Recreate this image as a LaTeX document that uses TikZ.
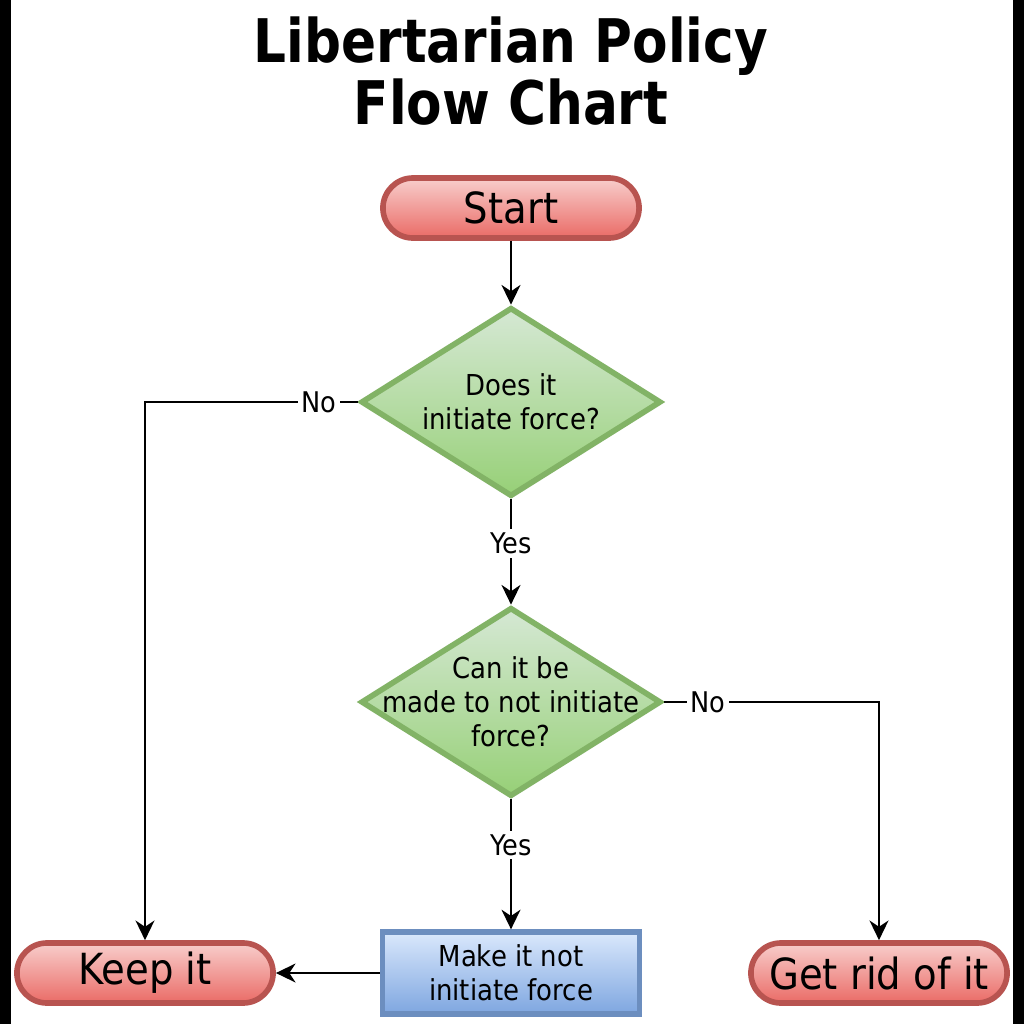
\documentclass[tikz,border=0pt]{standalone}
\usepackage{fontspec}
\setmainfont{DejaVu Sans}[FakeStretch=0.9]
\newfontfamily\titlefont{DejaVu Sans}[FakeStretch=0.86]
\usetikzlibrary{shapes.geometric,arrows.meta}
\definecolor{redfillA}{HTML}{F8CECC}
\definecolor{redfillB}{HTML}{EA6B66}
\definecolor{redline}{HTML}{B85450}
\definecolor{grnfillA}{HTML}{D5E8D4}
\definecolor{grnfillB}{HTML}{97D077}
\definecolor{grnline}{HTML}{82B366}
\definecolor{blufillA}{HTML}{DAE8FC}
\definecolor{blufillB}{HTML}{7EA6E0}
\definecolor{bluline}{HTML}{6C8EBF}
\tikzset{
  terminal/.style={rectangle, rounded corners=0.30cm, draw=redline, line width=1.6pt,
    top color=redfillA, bottom color=redfillB, minimum width=2.56cm, minimum height=0.60cm,
    inner sep=0pt, font=\fontsize{12.2pt}{14pt}\selectfont},
  decision/.style={diamond, draw=grnline, line width=1.6pt, top color=grnfillA, bottom color=grnfillB,
    minimum width=3.0cm, minimum height=1.89cm, inner sep=0pt},
  process/.style={rectangle, draw=bluline, line width=1.5pt, top color=blufillA, bottom color=blufillB,
    minimum width=2.57cm, minimum height=0.82cm, inner sep=0pt},
  txt/.style={align=center, font=\fontsize{8.2pt}{9.6pt}\selectfont, inner sep=0pt},
  lbl/.style={fill=white, inner sep=1pt, font=\fontsize{8.1pt}{9.6pt}\selectfont},
  conn/.style={draw=black, line width=0.55pt, -{Stealth[length=5.6pt, width=5.4pt, inset=1.8pt]}},
  bar/.style={fill=black, draw=none}
}
\begin{document}
\begin{tikzpicture}[x=0.01cm, y=-0.01cm]
\useasboundingbox (0,0) rectangle (1024,1024);
\fill[white] (0,0) rectangle (1024,1024);
\fill[bar] (0,0) rectangle (11,1024);
\fill[bar] (1013,0) rectangle (1024,1024);

\node[align=center, font=\titlefont\bfseries\fontsize{17.1pt}{17.4pt}\selectfont] (title) at (511,71)
  {Libertarian Policy\\Flow Chart};

\node[terminal] (start) at (511,208) {Start};
\node[decision, label={[txt]center:{Does it\\initiate force?}}] (d1) at (511,402) {};
\node[decision, label={[txt]center:{Can it be\\made to not initiate\\force?}}] (d2) at (511,702) {};
\node[process, txt] (make) at (511,973) {Make it not\\initiate force};
\node[terminal] (keep) at (145,973) {Keep it};
\node[terminal] (rid) at (879,973) {Get rid of it};

\draw[conn] (start) -- (d1);
\draw[conn] (d1.west) -| node[lbl, pos=0.092] {No} (keep.north);
\draw[conn] (d1.south) -- node[lbl, pos=0.42] {Yes} (d2.north);
\draw[conn] (d2.east) -| node[lbl, pos=0.103] {No} (rid.north);
\draw[conn] (d2.south) -- node[lbl, pos=0.35] {Yes} (make.north);
\draw[conn] (make.west) -- (keep.east);
\end{tikzpicture}
\end{document}
